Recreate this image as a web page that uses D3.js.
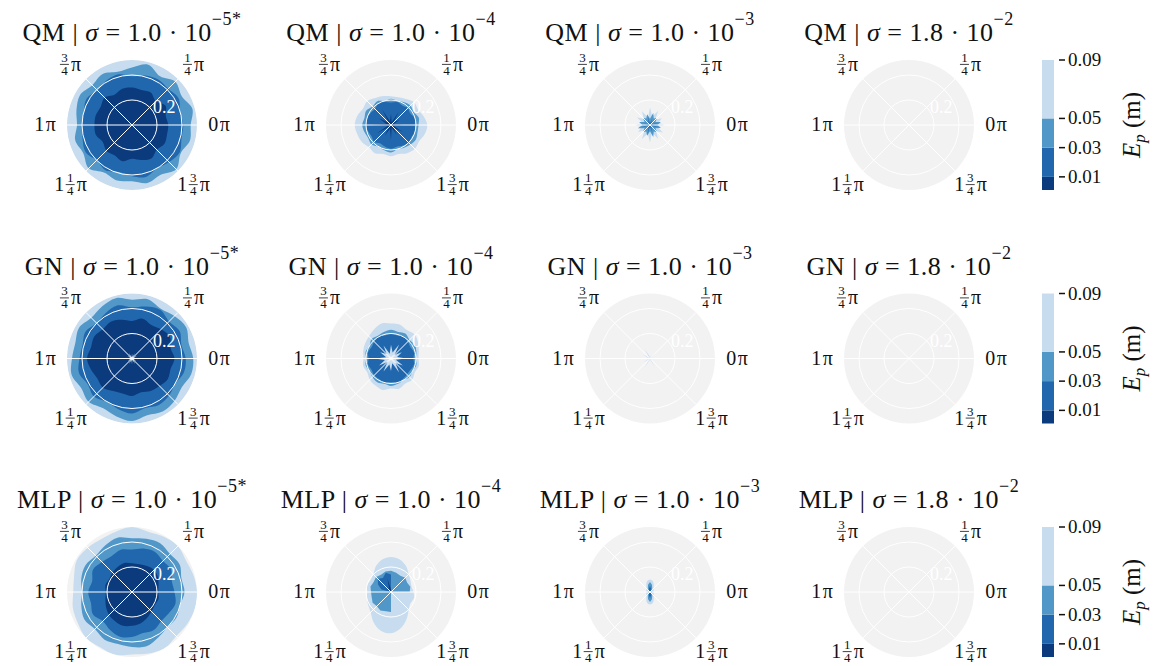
<!DOCTYPE html>
<html><head><meta charset="utf-8">
<script src="https://cdn.jsdelivr.net/npm/d3@7"></script>
<style>body{margin:0;background:#fff} text{font-family:"Liberation Serif","DejaVu Serif",serif;fill:#111}</style>
</head><body><svg id="c" width="1153" height="666"></svg>
<script>
// ---------- data ----------
const models = ["QM", "GN", "MLP"];
const sigmaMant = ["1.0", "1.0", "1.0", "1.8"];
const sigmaExp = ["−5*", "−4", "−3", "−2"];
const levels = [0.01, 0.03, 0.05, 0.09];      // contour levels (E_p, m)
const cbarMin = 0.001;
const cbarTicks = ["0.01", "0.03", "0.05", "0.09"];
const rTicks = [0.2, 0.4];
const rTickLabels = ["0.2"];
const rMax = 0.52;
const thetaTicks = [0, 45, 135, 180, 225, 315];   // degrees
const thetaWhole = ["0", "", "", "1", "1", "1"];
const thetaNum = ["", "1", "3", "", "1", "3"];
const thetaDen = ["", "4", "4", "", "4", "4"];
const angles = d3.range(0, 360, 15);             // boundary sample angles (deg)

// boundary radii (m) of each band region, per sample angle
const qm1_b3 = [0.52,0.52,0.52,0.52,0.52,0.52,0.52,0.52,0.52,0.52,0.52,0.52,0.52,0.52,0.52,0.52,0.52,0.52,0.52,0.52,0.52,0.52,0.52,0.52];
const qm1_b2 = [0.47,0.50,0.46,0.49,0.45,0.50,0.46,0.44,0.47,0.45,0.48,0.46,0.44,0.47,0.45,0.49,0.44,0.46,0.45,0.48,0.46,0.50,0.45,0.48];
const qm1_b1 = [0.41,0.40,0.43,0.41,0.42,0.41,0.39,0.42,0.41,0.39,0.42,0.40,0.40,0.41,0.43,0.40,0.42,0.39,0.41,0.43,0.40,0.42,0.44,0.41];
const qm1_b0 = [0.29,0.28,0.31,0.27,0.30,0.29,0.30,0.30,0.28,0.31,0.29,0.30,0.30,0.30,0.27,0.29,0.28,0.30,0.27,0.29,0.31,0.28,0.30,0.29];

const gn1_b3 = [0.52,0.52,0.52,0.52,0.52,0.52,0.52,0.52,0.52,0.52,0.52,0.52,0.52,0.52,0.52,0.52,0.52,0.52,0.52,0.52,0.52,0.52,0.52,0.52];
const gn1_b2 = [0.49,0.47,0.50,0.48,0.46,0.49,0.47,0.50,0.48,0.46,0.49,0.47,0.48,0.50,0.47,0.49,0.46,0.48,0.50,0.47,0.49,0.48,0.46,0.49];
const gn1_b1 = [0.43,0.41,0.44,0.42,0.45,0.43,0.41,0.44,0.42,0.40,0.43,0.41,0.42,0.44,0.41,0.43,0.40,0.42,0.44,0.41,0.43,0.42,0.40,0.43];
const gn1_b0 = [0.34,0.32,0.35,0.33,0.31,0.33,0.30,0.32,0.34,0.33,0.35,0.34,0.36,0.34,0.32,0.33,0.30,0.29,0.30,0.28,0.30,0.31,0.33,0.32];
const gn1_c3 = [0.05,0.015,0.045,0.01,0.05,0.015,0.04,0.01,0.05,0.015,0.045,0.01,0.05,0.015,0.04,0.01,0.05,0.015,0.045,0.01,0.05,0.015,0.04,0.01];

const mlp1_b3 = [0.52,0.51,0.50,0.52,0.51,0.50,0.52,0.50,0.49,0.50,0.51,0.48,0.47,0.49,0.50,0.52,0.51,0.52,0.50,0.51,0.52,0.50,0.51,0.52];
const mlp1_b2 = [0.42,0.41,0.44,0.43,0.45,0.44,0.43,0.45,0.43,0.41,0.43,0.42,0.40,0.42,0.44,0.42,0.44,0.43,0.44,0.45,0.42,0.40,0.41,0.40];
const mlp1_b1 = [0.34,0.33,0.36,0.35,0.37,0.36,0.34,0.35,0.33,0.34,0.36,0.33,0.35,0.34,0.36,0.33,0.35,0.37,0.36,0.34,0.35,0.33,0.34,0.36];
const mlp1_b0 = [0.21,0.22,0.24,0.25,0.24,0.23,0.23,0.24,0.23,0.22,0.21,0.22,0.21,0.22,0.24,0.26,0.27,0.28,0.27,0.26,0.24,0.22,0.21,0.22];

const qm2_b3 = [0.29,0.27,0.25,0.26,0.24,0.23,0.23,0.24,0.25,0.27,0.26,0.28,0.29,0.28,0.27,0.25,0.26,0.24,0.25,0.24,0.26,0.27,0.26,0.28];
const qm2_b2 = [0.22,0.23,0.21,0.22,0.21,0.20,0.21,0.20,0.22,0.21,0.23,0.22,0.23,0.22,0.21,0.22,0.20,0.21,0.22,0.20,0.21,0.22,0.23,0.22];
const qm2_b1 = [0.19,0.20,0.18,0.19,0.18,0.19,0.18,0.19,0.20,0.18,0.19,0.20,0.20,0.19,0.18,0.19,0.17,0.18,0.19,0.18,0.19,0.20,0.19,0.20];
const qm2_b0 = [0.10,0.02,0.08,0.03,0.12,0.02,0.09,0.03,0.14,0.02,0.11,0.04,0.16,0.03,0.13,0.02,0.10,0.03,0.12,0.02,0.09,0.03,0.11,0.02];

const gn2_b3 = [0.22,0.23,0.25,0.27,0.26,0.28,0.28,0.29,0.27,0.25,0.24,0.23,0.22,0.23,0.22,0.24,0.25,0.26,0.24,0.25,0.23,0.24,0.22,0.23];
const gn2_b2 = [0.20,0.21,0.22,0.21,0.23,0.22,0.23,0.22,0.21,0.22,0.20,0.21,0.20,0.21,0.20,0.21,0.22,0.21,0.22,0.21,0.20,0.21,0.20,0.21];
const gn2_b1 = [0.18,0.19,0.18,0.19,0.20,0.19,0.20,0.19,0.20,0.19,0.18,0.19,0.18,0.19,0.18,0.19,0.19,0.20,0.19,0.20,0.19,0.18,0.18,0.19];
const gn2_c3 = [0.12,0.05,0.10,0.04,0.13,0.05,0.11,0.04,0.12,0.05,0.10,0.04,0.13,0.05,0.11,0.04,0.12,0.05,0.10,0.04,0.13,0.05,0.11,0.04];
const gn2_cbg = [0.06,0.01,0.05,0.01,0.07,0.01,0.05,0.01,0.06,0.01,0.05,0.01,0.07,0.01,0.05,0.01,0.06,0.01,0.05,0.01,0.07,0.01,0.05,0.01];

const mlp2_b3 = [0.18,0.17,0.18,0.20,0.24,0.27,0.28,0.27,0.24,0.20,0.19,0.20,0.19,0.20,0.21,0.23,0.28,0.32,0.33,0.30,0.25,0.20,0.18,0.19];
const mlp2_b2 = [0.15,0.16,0.15,0.16,0.15,0.16,0.17,0.17,0.16,0.17,0.16,0.17,0.16,0.16,0.17,0.16,0.17,0.16,0.16,0.00,0.00,0.00,0.00,0.00];
const mlp2_b1 = [0.00,0.00,0.00,0.00,0.00,0.00,0.14,0.16,0.13,0.15,0.12,0.08,0.00,0.00,0.00,0.00,0.00,0.00,0.00,0.00,0.00,0.00,0.00,0.00];
const mlp2_b0 = [0.00,0.00,0.00,0.00,0.00,0.00,0.02,0.11,0.03,0.09,0.02,0.00,0.00,0.00,0.00,0.00,0.00,0.00,0.00,0.00,0.00,0.00,0.00,0.00];

const qm3_b3 = [0.12,0.07,0.11,0.06,0.13,0.07,0.14,0.06,0.13,0.07,0.12,0.06,0.12,0.07,0.11,0.06,0.13,0.07,0.14,0.06,0.13,0.07,0.12,0.06];
const qm3_b2 = [0.06,0.09,0.05,0.08,0.06,0.10,0.05,0.09,0.06,0.08,0.05,0.09,0.06,0.10,0.05,0.08,0.06,0.09,0.05,0.10,0.06,0.08,0.05,0.09];
const qm3_b1 = [0.02,0.07,0.01,0.06,0.02,0.05,0.01,0.07,0.02,0.06,0.01,0.05,0.02,0.07,0.01,0.06,0.02,0.08,0.01,0.06,0.02,0.05,0.01,0.07];

const gn3_b3 = [0.01,0.02,0.01,0.08,0.01,0.02,0.01,0.02,0.09,0.01,0.07,0.01,0.02,0.01,0.06,0.01,0.09,0.01,0.02,0.01,0.08,0.01,0.02,0.01];

const mlp3_b3 = [0.03,0.03,0.035,0.04,0.06,0.09,0.10,0.09,0.06,0.04,0.035,0.03,0.03,0.03,0.035,0.04,0.06,0.09,0.10,0.09,0.06,0.04,0.035,0.03];
const mlp3_b2 = [0.012,0.012,0.015,0.02,0.035,0.06,0.08,0.06,0.035,0.02,0.015,0.012,0.012,0.012,0.015,0.02,0.035,0.06,0.08,0.06,0.035,0.02,0.015,0.012];
const mlp3_b1 = [0.005,0.005,0.005,0.01,0.015,0.03,0.05,0.03,0.015,0.01,0.005,0.005,0.005,0.005,0.005,0.01,0.015,0.03,0.05,0.03,0.015,0.01,0.005,0.005];

const qm4_b2 = [0.006,0.006,0.006,0.006,0.006,0.006,0.006,0.006,0.006,0.006,0.006,0.006,0.006,0.006,0.006,0.006,0.006,0.006,0.006,0.006,0.006,0.006,0.006,0.006];

// layers per panel [row][col]: [band index (-1 = background), radii, smooth outline?]
const panels = [
  [[[3,qm1_b3,1],[2,qm1_b2,1],[1,qm1_b1,1],[0,qm1_b0,1]], [[3,qm2_b3,1],[2,qm2_b2,1],[1,qm2_b1,1],[0,qm2_b0,0]], [[3,qm3_b3,0],[2,qm3_b2,0],[1,qm3_b1,0]], [[2,qm4_b2,1]]],
  [[[3,gn1_b3,1],[2,gn1_b2,1],[1,gn1_b1,1],[0,gn1_b0,1],[3,gn1_c3,0]], [[3,gn2_b3,1],[2,gn2_b2,1],[1,gn2_b1,1],[3,gn2_c3,0],[-1,gn2_cbg,0]], [[3,gn3_b3,0]], []],
  [[[3,mlp1_b3,1],[2,mlp1_b2,1],[1,mlp1_b1,1],[0,mlp1_b0,1]], [[3,mlp2_b3,1],[2,mlp2_b2,0],[1,mlp2_b1,0],[0,mlp2_b0,0]], [[3,mlp3_b3,1],[2,mlp3_b2,0],[1,mlp3_b1,0]], []]
];

// ---------- styles / layout ----------
const bandColors = ["#0b3b7c", "#2067ae", "#5198c9", "#c7dcef"];
const bgColor = "#f2f2f2";
const colCx = [132, 391, 650, 909];
const rowCy = [125, 358.5, 592];
const R = 65;

const svg = d3.select("#c");
const rScale = d3.scaleLinear().domain([0, rMax]).range([0, R]);
const aScale = d3.scaleLinear().domain([0, 360]).range([Math.PI / 2, Math.PI / 2 - 2 * Math.PI]);
const bandColor = d3.scaleOrdinal().domain([-1, 0, 1, 2, 3]).range([bgColor, ...bandColors]);
const radialLin = d3.lineRadial()
  .angle((d, i) => aScale(angles[i]))
  .radius(d => rScale(d))
  .curve(d3.curveLinearClosed);
const radialSmooth = d3.lineRadial()
  .angle((d, i) => aScale(angles[i]))
  .radius(d => rScale(d))
  .curve(d3.curveCatmullRomClosed.alpha(0.5));

rowCy.forEach((cy, ri) => {
  colCx.forEach((cx, ci) => {
    const g = svg.append("g").attr("transform", `translate(${cx},${cy})`);
    const clipId = `clip${ri}_${ci}`;
    g.append("clipPath").attr("id", clipId).append("circle").attr("r", rScale(rMax));
    g.append("circle").attr("r", rScale(rMax)).attr("fill", bgColor);
    const cg = g.append("g").attr("clip-path", `url(#${clipId})`);
    panels[ri][ci].forEach(([band, radii, smooth]) => {
      cg.append("path").attr("d", (smooth ? radialSmooth : radialLin)(radii)).attr("fill", bandColor(band));
    });
    // grid
    rTicks.forEach(t => g.append("circle").attr("r", rScale(t)).attr("fill", "none")
      .attr("stroke", "#fff").attr("stroke-width", 1));
    thetaTicks.forEach(t => {
      const a = t * Math.PI / 180;
      g.append("line").attr("x1", 0).attr("y1", 0)
        .attr("x2", rScale(rMax) * Math.cos(a)).attr("y2", -rScale(rMax) * Math.sin(a))
        .attr("stroke", "#fff").attr("stroke-width", 1);
    });
    rTickLabels.forEach(lbl => {
      g.append("text").attr("x", 21).attr("y", -12).attr("font-size", 18)
        .style("fill", "#fff").text(lbl);
    });
    // theta labels
    thetaTicks.forEach((t, k) => {
      const a = t * Math.PI / 180;
      const lx = 87 * Math.cos(a), ly = -85 * Math.sin(a);
      const lg = g.append("g");
      let x = 0;
      if (thetaWhole[k]) {
        const tw = lg.append("text").attr("x", x).attr("y", 6).attr("font-size", 20).text(thetaWhole[k]);
        x += tw.node().getComputedTextLength() + 1.5;
      }
      if (thetaNum[k]) {
        lg.append("text").attr("x", x + 4.5).attr("y", -3).attr("font-size", 13)
          .attr("text-anchor", "middle").text(thetaNum[k]);
        lg.append("text").attr("x", x + 4.5).attr("y", 10).attr("font-size", 13)
          .attr("text-anchor", "middle").text(thetaDen[k]);
        lg.append("line").attr("x1", x).attr("x2", x + 9).attr("y1", -0.5).attr("y2", -0.5)
          .attr("stroke", "#111").attr("stroke-width", 0.8);
        x += 11;
      }
      lg.append("text").attr("x", x).attr("y", 6).attr("font-size", 20).text("π");
      const bb = lg.node().getBBox();
      lg.attr("transform", `translate(${lx - (bb.x + bb.width / 2)},${ly})`);
    });
    // title
    const tt = svg.append("text").attr("x", cx).attr("y", cy - 84)
      .attr("text-anchor", "middle").attr("font-size", 26).attr("letter-spacing", 0.5);
    tt.append("tspan").text(models[ri] + " | ");
    tt.append("tspan").attr("font-style", "italic").text("σ");
    tt.append("tspan").text(" = " + sigmaMant[ci] + " · 10");
    tt.append("tspan").attr("font-size", 18).attr("dy", -16).text(sigmaExp[ci]);
  });

  // colorbar
  const cy0 = cy - 65, cy1 = cy + 65;
  const yC = d3.scaleLinear().domain([cbarMin, levels[levels.length - 1]]).range([cy1, cy0]);
  const cb = svg.append("g");
  const lows = [cbarMin, ...levels.slice(0, -1)];
  levels.forEach((hi, i) => {
    cb.append("rect").attr("x", 1042).attr("width", 12)
      .attr("y", yC(hi)).attr("height", yC(lows[i]) - yC(hi))
      .attr("fill", bandColors[i]);
  });
  levels.forEach((v, i) => {
    cb.append("line").attr("x1", 1059).attr("x2", 1065).attr("y1", yC(v)).attr("y2", yC(v))
      .attr("stroke", "#111").attr("stroke-width", 1.5);
    cb.append("text").attr("x", 1068).attr("y", yC(v) + 6).attr("font-size", 19).text(cbarTicks[i]);
  });
  const lab = cb.append("text").attr("transform", `translate(1140,${cy}) rotate(-90)`)
    .attr("text-anchor", "middle").attr("font-size", 25);
  lab.append("tspan").attr("font-style", "italic").text("E");
  lab.append("tspan").attr("font-style", "italic").attr("font-size", 17).attr("dy", 5).text("p");
  lab.append("tspan").attr("dy", -5).text(" (m)");
});
</script></body></html>
